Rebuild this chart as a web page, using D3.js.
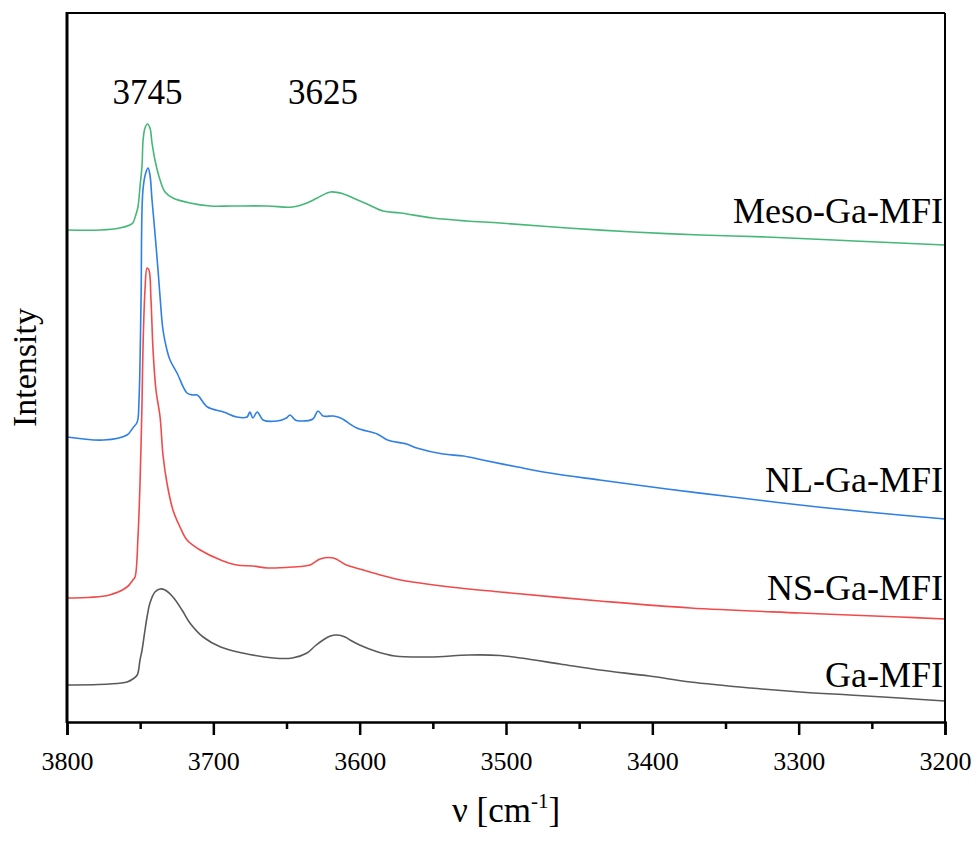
<!DOCTYPE html>
<html>
<head>
<meta charset="utf-8">
<script src="https://cdn.jsdelivr.net/npm/d3@7/dist/d3.min.js"></script>
<style>
  html, body { margin: 0; padding: 0; background: #fff; }
  svg { display: block; }
  svg text { font-family: "Liberation Serif", "Times New Roman", serif; }
</style>
</head>
<body>
<svg id="chart" width="979" height="841"></svg>
<script>
// FTIR spectra in the OH stretching region, offset vertically (arbitrary units)
// Each point: [wavenumber (cm-1), intensity]
const mesoGaMFI = [
  [3800,4.92],[3777,4.92],[3764,4.94],[3757,4.97],[3755,4.99],[3753,5.07],[3751.5,5.15],
  [3750,5.37],[3748.7,5.57],[3748,5.82],[3746.7,5.94],[3745,5.98],[3743.3,5.94],[3741.9,5.79],
  [3739.9,5.62],[3736.4,5.42],[3733,5.30],[3727.6,5.24],[3716,5.19],[3702,5.16],[3687,5.16],
  [3663,5.16],[3646,5.15],[3636,5.19],[3629,5.24],[3620,5.30],[3611,5.28],[3604.5,5.24],
  [3595,5.18],[3584,5.11],[3572,5.09],[3550,5.04],[3527,5.01],[3504,4.99],[3458,4.94],
  [3413,4.90],[3367,4.87],[3322,4.85],[3276,4.82],[3231,4.79],[3200,4.77]
];
const nlGaMFI = [
  [3800,2.85],[3775,2.82],[3759,2.87],[3755,2.94],[3752,3.00],[3750.8,3.22],[3749.4,4.22],
  [3748.1,5.32],[3746,5.50],[3744.6,5.54],[3743.3,5.47],[3741.9,5.22],[3739.9,4.89],
  [3737.8,4.52],[3736.4,4.25],[3734.4,3.92],[3731.7,3.72],[3729.6,3.62],[3724.8,3.49],
  [3718,3.29],[3714,3.27],[3711,3.27],[3704,3.15],[3693,3.10],[3684,3.05],[3677,3.05],
  [3675,3.10],[3673,3.04],[3670,3.10],[3666,3.02],[3656.5,3.01],[3650,3.04],[3647.6,3.07],
  [3644,3.02],[3641,3.01],[3632,3.03],[3628.5,3.11],[3625,3.06],[3618,3.06],[3613,3.04],
  [3602,2.94],[3588,2.88],[3581,2.82],[3568,2.78],[3561,2.74],[3543,2.68],[3529,2.66],
  [3516,2.62],[3492,2.55],[3470,2.49],[3436,2.42],[3390,2.33],[3345,2.25],[3299,2.17],
  [3253,2.10],[3200,2.03]
];
const nsGaMFI = [
  [3800,1.24],[3771,1.27],[3759,1.35],[3755,1.42],[3753.5,1.45],[3751.5,1.85],[3750.1,2.39],
  [3748.7,3.22],[3748.1,3.72],[3746.7,4.32],[3745.3,4.54],[3744,4.52],[3742.6,4.22],
  [3741.2,3.72],[3739.2,3.32],[3736.4,3.05],[3734.4,2.67],[3731.7,2.39],[3727.6,2.12],
  [3722.8,1.95],[3718,1.82],[3709,1.72],[3695,1.62],[3684,1.57],[3673,1.56],[3663,1.54],
  [3646,1.55],[3634,1.57],[3627,1.63],[3618,1.64],[3609,1.57],[3600,1.53],[3586,1.47],
  [3572,1.42],[3538,1.35],[3504,1.30],[3436,1.21],[3374,1.14],[3299,1.09],[3231,1.05],
  [3200,1.03]
];
const gaMFI = [
  [3800,0.37],[3771,0.38],[3759,0.40],[3755,0.43],[3752,0.47],[3750.1,0.62],[3748.7,0.72],
  [3746.7,0.92],[3745.3,1.05],[3743.3,1.19],[3739.9,1.30],[3736.4,1.33],[3733,1.32],
  [3727.6,1.25],[3721.4,1.12],[3716,0.99],[3707,0.85],[3695,0.75],[3680,0.69],[3659,0.64],
  [3646,0.64],[3636,0.69],[3630.5,0.76],[3625,0.82],[3620,0.86],[3615.5,0.87],[3610,0.85],
  [3606.6,0.82],[3600,0.77],[3589.5,0.71],[3576,0.66],[3552,0.65],[3525,0.67],[3504,0.665],
  [3490,0.64],[3463,0.58],[3436,0.52],[3402,0.46],[3374,0.40],[3333,0.34],[3299,0.30],
  [3265,0.27],[3231,0.24],[3200,0.21]
];

const seriesNames  = ["Meso-Ga-MFI", "NL-Ga-MFI", "NS-Ga-MFI", "Ga-MFI"];
const seriesData   = [mesoGaMFI, nlGaMFI, nsGaMFI, gaMFI];
const seriesColors = ["#45b878", "#2e7fe6", "#f24a4a", "#5a5a5a"];
// Intensity at which each series name sits (just above its tail)
const labelLevels  = [4.99, 2.30, 1.22, 0.35];

const majorTicks = [3800, 3700, 3600, 3500, 3400, 3300, 3200];
const minorTicks = [3750, 3650, 3550, 3450, 3350, 3250];
const bandLabels = [[3745, "3745"], [3625, "3625"]];

const svg = d3.select("#chart");
const plotLeft = 67, plotRight = 945, plotTop = 13, plotBottom = 722;
const serif = "'Liberation Serif', 'Times New Roman', serif";

const x = d3.scaleLinear().domain([3800, 3200]).range([plotLeft, plotRight]);
const y = d3.scaleLinear().domain([0, 7.09]).range([plotBottom, plotTop]);

// Spectra
const line = d3.line()
  .x(d => x(d[0]))
  .y(d => y(d[1]))
  .curve(d3.curveCatmullRom.alpha(0.5));

svg.append("g").selectAll("path")
  .data(seriesData)
  .join("path")
  .attr("d", line)
  .attr("fill", "none")
  .attr("stroke", (d, i) => seriesColors[i])
  .attr("stroke-width", 1.6)
  .attr("stroke-linejoin", "round");

// Frame: top and right edges
svg.append("line").attr("x1", plotLeft).attr("x2", plotRight).attr("y1", plotTop).attr("y2", plotTop)
  .attr("stroke", "#000").attr("stroke-width", 2);
svg.append("line").attr("x1", plotRight).attr("x2", plotRight).attr("y1", plotTop).attr("y2", plotBottom)
  .attr("stroke", "#000").attr("stroke-width", 2);
// Left (intensity) axis line, no ticks
svg.append("line").attr("x1", plotLeft).attr("x2", plotLeft).attr("y1", plotTop - 1).attr("y2", plotBottom + 1)
  .attr("stroke", "#000").attr("stroke-width", 3);

// Bottom axis: major ticks with labels
const xAxis = d3.axisBottom(x)
  .tickValues(majorTicks)
  .tickSize(13)
  .tickPadding(17)
  .tickFormat(d3.format("d"));
const gx = svg.append("g")
  .attr("transform", `translate(0,${plotBottom})`)
  .call(xAxis);
gx.attr("font-family", serif);
gx.select(".domain").attr("stroke", "#000").attr("stroke-width", 2.5);
gx.selectAll(".tick line").attr("stroke", "#000").attr("stroke-width", 2.5);
gx.selectAll(".tick text")
  .attr("fill", "#000")
  .style("font-family", serif)
  .style("font-size", "26px");

// Bottom axis: minor ticks
const xMinor = d3.axisBottom(x).tickValues(minorTicks).tickSize(7).tickFormat("");
const gm = svg.append("g")
  .attr("transform", `translate(0,${plotBottom})`)
  .call(xMinor);
gm.select(".domain").remove();
gm.selectAll(".tick line").attr("stroke", "#000").attr("stroke-width", 2.5);

// Axis titles
const xTitle = svg.append("text")
  .attr("x", (plotLeft + plotRight) / 2)
  .attr("y", 822)
  .attr("text-anchor", "middle")
  .style("font-family", serif)
  .style("font-size", "35px")
  .attr("fill", "#000");
xTitle.append("tspan").text("\u03bd [cm");
xTitle.append("tspan").attr("dy", -14).style("font-size", "21px").text("-1");
xTitle.append("tspan").attr("dy", 14).text("]");

svg.append("text")
  .attr("transform", `translate(36,${(plotTop + plotBottom) / 2}) rotate(-90)`)
  .attr("text-anchor", "middle")
  .style("font-family", serif)
  .style("font-size", "34px")
  .attr("fill", "#000")
  .text("Intensity");

// Band position annotations
svg.append("g").selectAll("text")
  .data(bandLabels)
  .join("text")
  .attr("x", d => x(d[0]))
  .attr("y", 104)
  .attr("text-anchor", "middle")
  .style("font-family", serif)
  .style("font-size", "35px")
  .attr("fill", "#000")
  .text(d => d[1]);

// Series names at the right end
svg.append("g").selectAll("text")
  .data(seriesNames)
  .join("text")
  .attr("x", plotRight - 2)
  .attr("y", (d, i) => y(labelLevels[i]))
  .attr("text-anchor", "end")
  .style("font-family", serif)
  .style("font-size", "36px")
  .attr("fill", "#000")
  .text(d => d);
</script>
</body>
</html>
